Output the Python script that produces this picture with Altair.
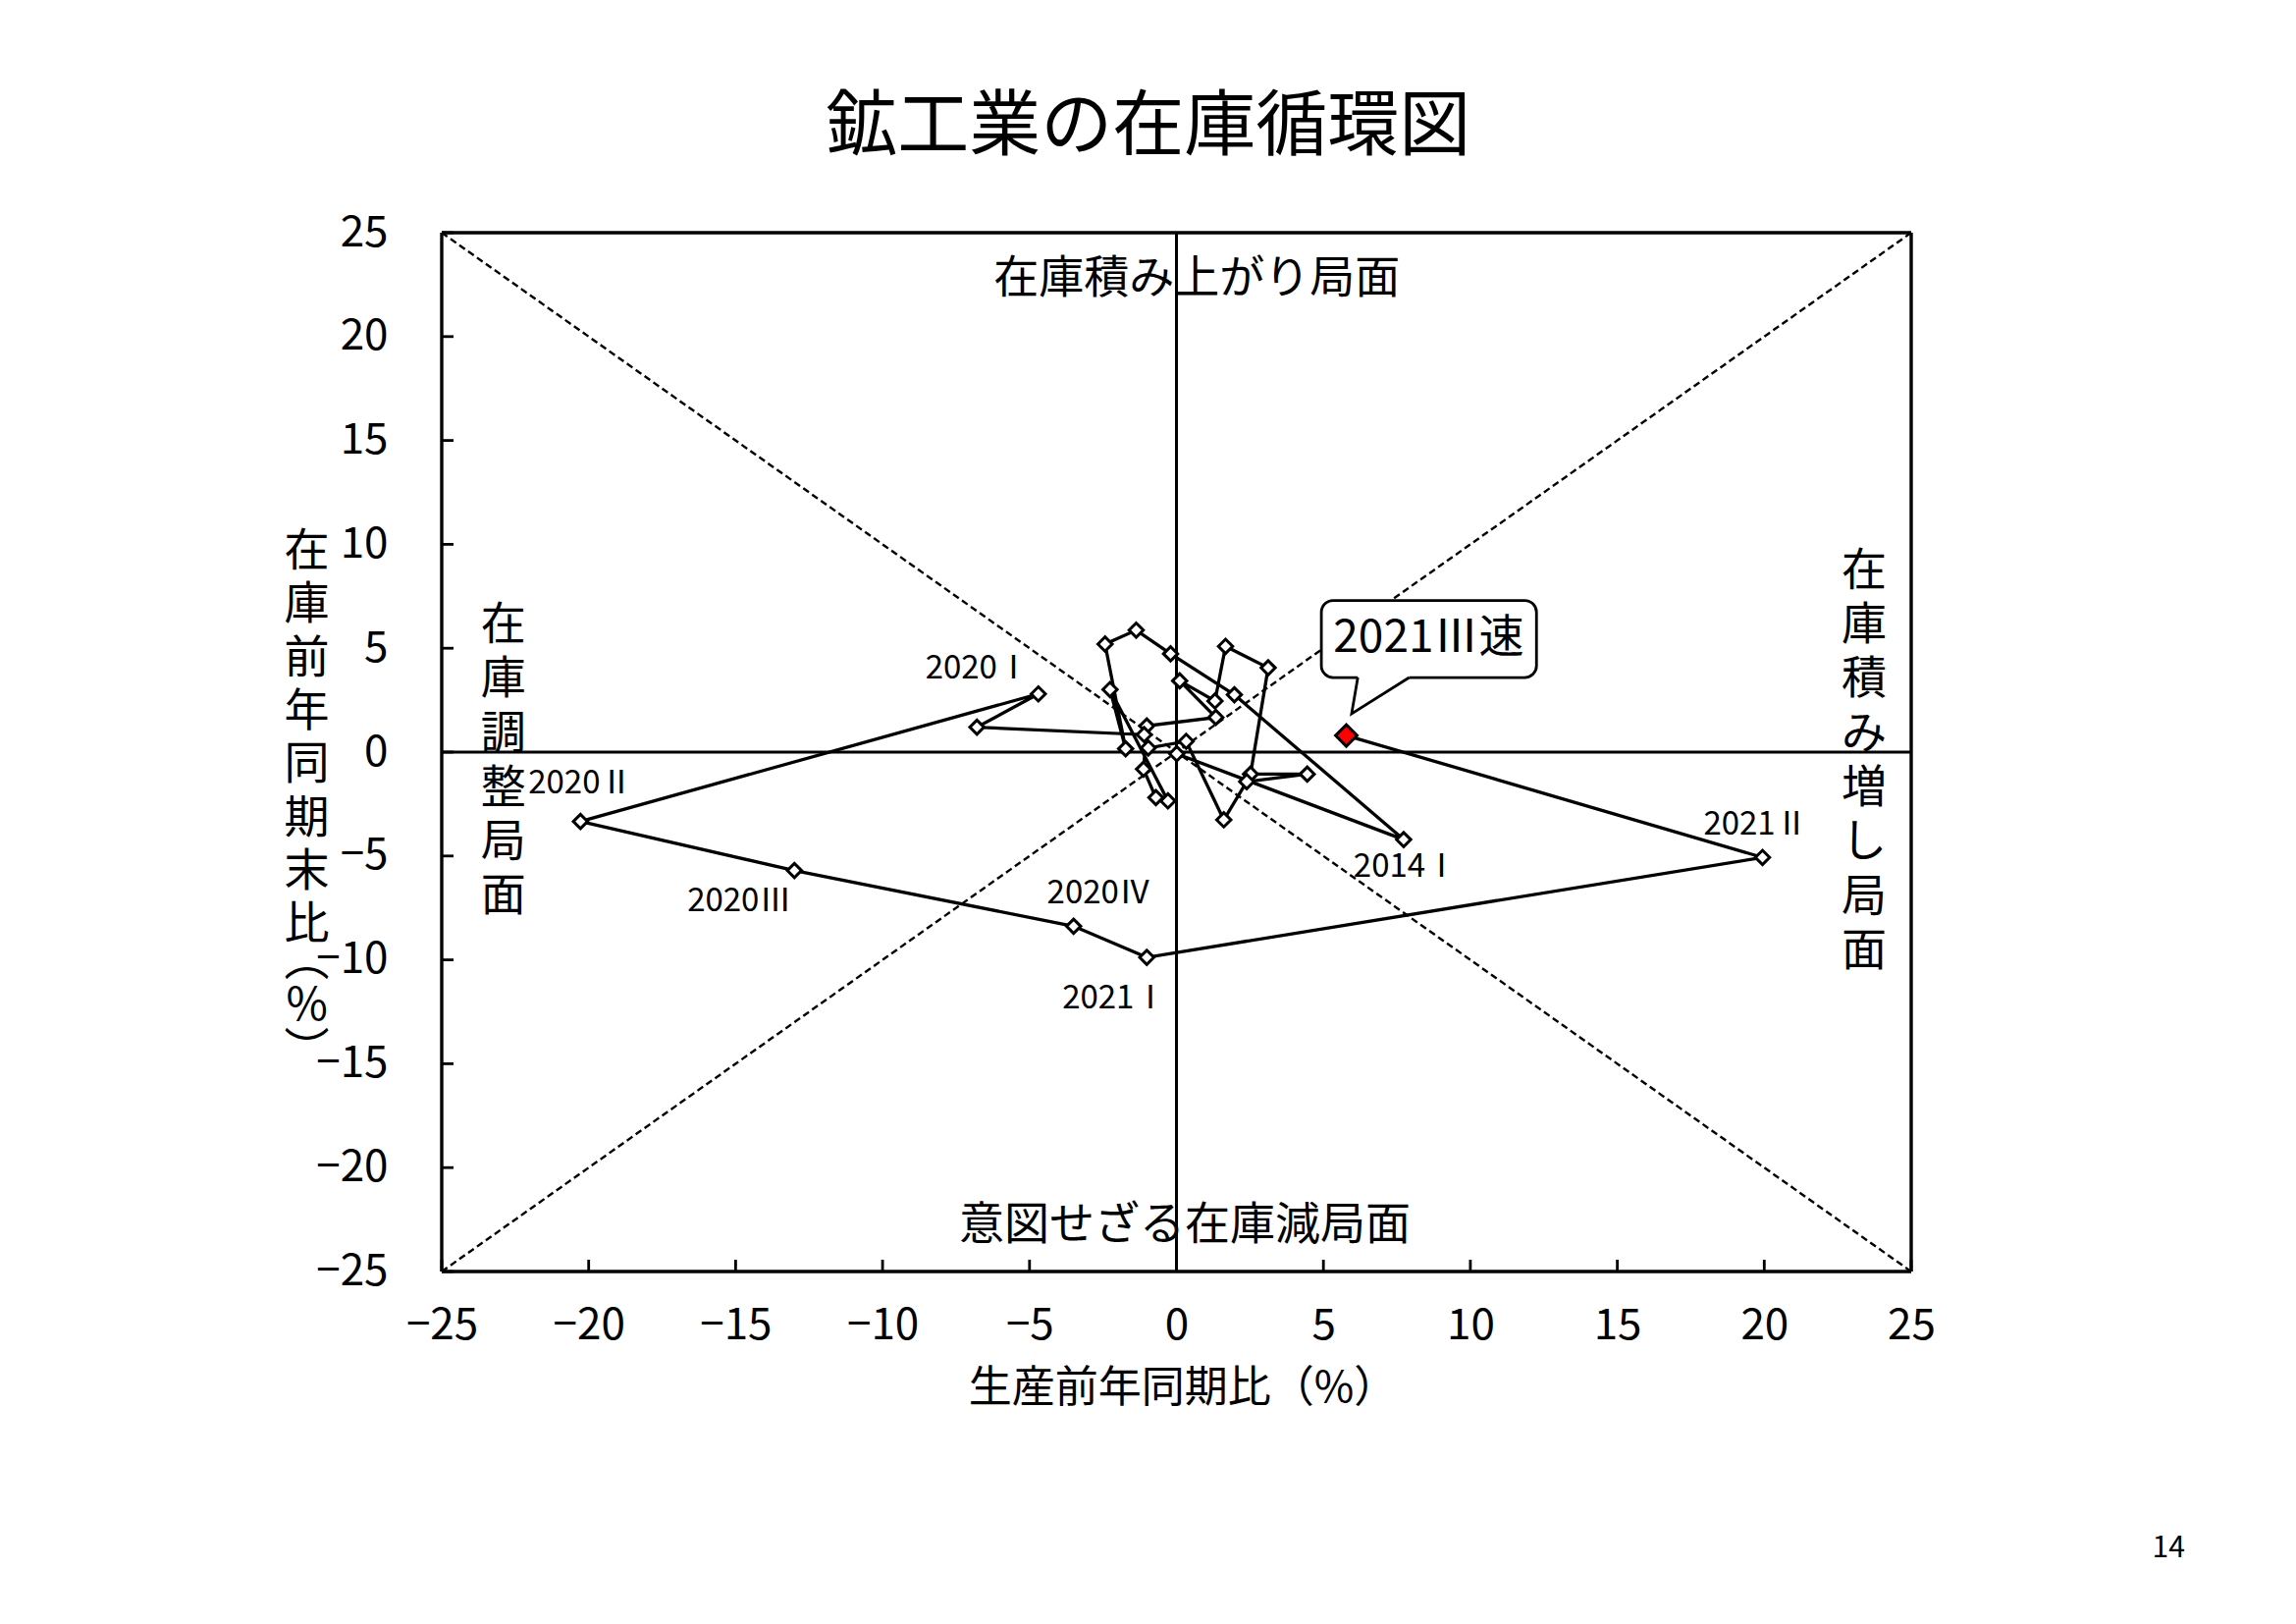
import altair as alt
import pandas as pd

FONT = "Noto Sans CJK JP"

# ---- data ----
quarters = ["2013Ⅳ", "2014Ⅰ", "2014Ⅱ", "2014Ⅲ", "2014Ⅳ",
            "2015Ⅰ", "2015Ⅱ", "2015Ⅲ", "2015Ⅳ",
            "2016Ⅰ", "2016Ⅱ", "2016Ⅲ", "2016Ⅳ",
            "2017Ⅰ", "2017Ⅱ", "2017Ⅲ", "2017Ⅳ",
            "2018Ⅰ", "2018Ⅱ", "2018Ⅲ", "2018Ⅳ",
            "2019Ⅰ", "2019Ⅱ", "2019Ⅲ", "2019Ⅳ",
            "2020Ⅰ", "2020Ⅱ", "2020Ⅲ", "2020Ⅳ",
            "2021Ⅰ", "2021Ⅱ", "2021Ⅲ"]
production = [0.01, 7.73, 1.97, -0.20, -1.37,
              -2.43, -1.73, -2.26, -0.29,
              -0.70, -1.12, -1.01, 1.34,
              0.11, 1.31, 1.67, 3.12,
              2.52, 4.45, 2.39, 1.61,
              0.33, -0.96, -1.10, -6.79,
              -4.70, -20.28, -13.00, -3.50,
              -1.01, 19.94, 5.78]
inventory = [-0.08, -4.21, 2.76, 4.73, 5.87,
             5.20, 0.16, 3.01, -2.35,
             -2.19, -0.82, 1.26, 1.67,
             3.43, 2.46, 5.09, 4.06,
             -1.06, -1.06, -1.42, -3.26,
             0.52, 0.20, 0.84, 1.20,
             2.80, -3.34, -5.70, -8.38,
             -9.88, -5.07, 0.80]

tick_values = [-25, -20, -15, -10, -5, 0, 5, 10, 15, 20, 25]
labelled = ["2014Ⅰ", "2020Ⅰ", "2020Ⅱ", "2020Ⅲ", "2020Ⅳ", "2021Ⅰ", "2021Ⅱ"]
latest = "2021Ⅲ"
callout_text = "2021Ⅲ速"

title_text = "鉱工業の在庫循環図"
x_title = "生産前年同期比（%）"
y_title_main = "在庫前年同期末比"
y_title_unit = "︵%︶"
q_top = "在庫積み上がり局面"
q_bottom = "意図せざる在庫減局面"
q_left = "在庫調整局面"
q_right = "在庫積み増し局面"
page_no = "14"

# ---- layout ----
W, H = 1497, 1058
LEFT, TOP = 450, 237
PX_X = W / 50.0   # pixels per unit
PX_Y = H / 50.0

df = pd.DataFrame({"q": quarters, "x": production, "y": inventory,
                   "order": list(range(len(quarters)))})

sc_x = alt.Scale(domain=[-25, 25], nice=False, zero=False)
sc_y = alt.Scale(domain=[-25, 25], nice=False, zero=False)
X = alt.X("x:Q", scale=sc_x,
          axis=alt.Axis(values=tick_values, title=x_title, grid=False, ticks=False,
                        tickSize=0, domain=False, labelFontSize=44, labelPadding=33,
                        labelColor="black", titleFontSize=44, titleFontWeight="normal",
                        titleColor="black", titleBaseline="middle", titleY=119,
                        titleX=W / 2 + 6,
                        labelFlush=False, labelFont=FONT, titleFont=FONT))
Y = alt.Y("y:Q", scale=sc_y,
          axis=alt.Axis(values=tick_values, title=None, grid=False, ticks=False,
                        tickSize=0, domain=False, labelFontSize=44, labelPadding=55,
                        labelColor="black", labelFlush=False, labelFont=FONT))
X2 = alt.X2("x2:Q")
Y2 = alt.Y2("y2:Q")

def rules(rows):
    return pd.DataFrame(rows, columns=["x", "y", "x2", "y2"])

# diagonals
diag = alt.Chart(rules([[-25, 25, 25, -25], [-25, -25, 25, 25]])).mark_rule(
    color="black", strokeWidth=2.4, strokeDash=[7, 4]).encode(x=X, y=Y, x2=X2, y2=Y2)

# zero lines
zero = alt.Chart(rules([[-25, 0, 25, 0], [0, -25, 0, 25]])).mark_rule(
    color="black", strokeWidth=3).encode(x=X, y=Y, x2=X2, y2=Y2)

# frame
frame = alt.Chart(rules([[-25, -25, 25, -25], [-25, 25, 25, 25],
                         [-25, -25, -25, 25], [25, -25, 25, 25]])).mark_rule(
    color="black", strokeWidth=3.4).encode(x=X, y=Y, x2=X2, y2=Y2)

# inside ticks
tlx = 12 / PX_X
tly = 12 / PX_Y
tick_rows = [[v, -25, v, -25 + tly] for v in tick_values] + \
            [[-25, v, -25 + tlx, v] for v in tick_values]
ticks = alt.Chart(rules(tick_rows)).mark_rule(color="black", strokeWidth=2.8).encode(
    x=X, y=Y, x2=X2, y2=Y2)

path = alt.Chart(df).mark_line(color="black", strokeWidth=3.3).encode(
    x=X, y=Y, order="order:Q")

pts = alt.Chart(df[df.q != latest]).mark_point(
    shape="diamond", filled=True, fill="white", stroke="black", strokeWidth=3,
    size=210, opacity=1).encode(x=X, y=Y)

red = alt.Chart(df[df.q == latest]).mark_point(
    shape="diamond", filled=True, fill="#FF0000", stroke="black", strokeWidth=3,
    size=480, opacity=1).encode(x=X, y=Y)

# point labels, offsets in pixels from their points
label_offsets = {"2014Ⅰ": (2, 28), "2020Ⅰ": (-62, -26), "2020Ⅱ": (0, -39),
                 "2020Ⅲ": (-56, 31), "2020Ⅳ": (26, -33), "2021Ⅰ": (-33, 42),
                 "2021Ⅱ": (-7, -33)}
label_layers = []
for q in labelled:
    dx, dy = label_offsets[q]
    label_layers.append(
        alt.Chart(df[df.q == q]).mark_text(
            font=FONT, fontSize=33, color="black", dx=dx, dy=dy,
            align="center", baseline="middle").encode(x=X, y=Y, text="q:N"))

# callout
lx = production[quarters.index(latest)]
ly = inventory[quarters.index(latest)]
box = pd.DataFrame({"x": [lx - 0.85], "x2": [lx + 6.47],
                    "y": [ly + 2.79], "y2": [ly + 6.50]})
callout_box = alt.Chart(box).mark_rect(
    fill="white", stroke="black", strokeWidth=2.8, cornerRadius=12).encode(
    x=X, x2=X2, y=Y, y2=Y2)
base_l, base_r, base_y = lx + 0.39, lx + 2.14, ly + 2.79
tip = (lx + 0.18, ly + 1.05)
cover = alt.Chart(rules([[base_l, base_y, base_r, base_y]])).mark_rule(
    color="white", strokeWidth=5).encode(x=X, y=Y, x2=X2, y2=Y2)
ptr = pd.DataFrame({"x": [base_l, tip[0], base_r], "y": [base_y, tip[1], base_y],
                    "o": [0, 1, 2]})
pointer = alt.Chart(ptr).mark_line(color="black", strokeWidth=2.8).encode(
    x=X, y=Y, order="o:Q")
ctext = alt.Chart(pd.DataFrame({"x": [lx + 2.80], "y": [ly + 4.66], "t": [callout_text]})
                  ).mark_text(font=FONT, fontSize=46, color="black", align="center",
                              baseline="middle").encode(x=X, y=Y, text="t:N")

# quadrant labels
def vtext(s):
    return "\n".join(list(s))

qdf_h = pd.DataFrame({"x": [0.69, 0.28], "y": [22.8, -22.8], "t": [q_top, q_bottom]})
quad_h = alt.Chart(qdf_h).mark_text(font=FONT, fontSize=46, color="black",
                                    align="center", baseline="middle").encode(
    x=X, y=Y, text="t:N")
qdf_v = pd.DataFrame({"x": [-22.9, 23.4], "y": [7.14, 9.74],
                      "t": [vtext(q_left), vtext(q_right)]})
quad_v = alt.Chart(qdf_v).mark_text(font=FONT, fontSize=46, color="black",
                                    align="center", baseline="top", lineBreak="\n",
                                    lineHeight=55.3).encode(x=X, y=Y, text="t:N")

# y-axis title (stacked vertically, left of the axis)
ydf1 = pd.DataFrame({"x": [-29.59], "y": [10.68], "t": [vtext(y_title_main)]})
ytitle1 = alt.Chart(ydf1).mark_text(font=FONT, fontSize=46, color="black",
                                    align="center", baseline="top", lineBreak="\n",
                                    lineHeight=54.3).encode(x=X, y=Y, text="t:N")
ydf2 = pd.DataFrame({"x": [-29.59], "y": [-9.03], "t": [vtext(y_title_unit)]})
ytitle2 = alt.Chart(ydf2).mark_text(font=FONT, fontSize=46, color="black",
                                    align="center", baseline="top", lineBreak="\n",
                                    lineHeight=46).encode(x=X, y=Y, text="t:N")

# chart title and page number
tdf = pd.DataFrame({"x": [-0.96], "y": [30.06], "t": [title_text]})
title = alt.Chart(tdf).mark_text(font=FONT, fontSize=73, color="black",
                                 align="center", baseline="middle").encode(
    x=X, y=Y, text="t:N")
pdf = pd.DataFrame({"x": [33.76], "y": [-38.33], "t": [page_no]})
page = alt.Chart(pdf).mark_text(font=FONT, fontSize=30, color="black",
                                align="center", baseline="middle").encode(
    x=X, y=Y, text="t:N")

chart = alt.layer(
    diag, zero, ticks, path, pts, red, *label_layers,
    callout_box, cover, pointer, ctext, quad_h, quad_v, ytitle1, ytitle2,
    title, page, frame
).properties(
    width=W, height=H,
    autosize=alt.AutoSizeParams(type="none"),
    padding={"left": LEFT, "top": TOP, "right": 2339 - LEFT - W, "bottom": 1654 - TOP - H},
    background="white",
).configure(font=FONT).configure_view(stroke=None)

chart.save("out.html", embed_options={"renderer": "svg", "actions": False})
